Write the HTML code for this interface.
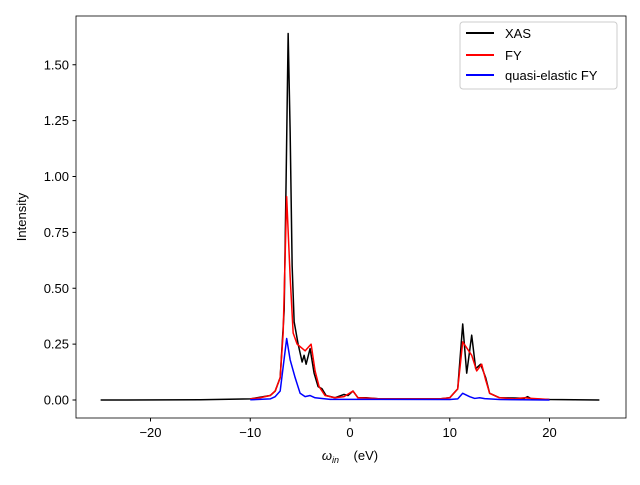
<!DOCTYPE html>
<html><head><meta charset="utf-8"><style>
html,body{margin:0;padding:0;background:#fff}
svg{font-family:"Liberation Sans",sans-serif}
</style></head><body>
<svg id="chart" width="640" height="480">
<rect x="0" y="0" width="640" height="480" fill="#fff"/>
<g id="plot"></g>
<rect x="76" y="16" width="550" height="402" fill="none" stroke="#000" stroke-width="0.8"/>
<g id="ticks"></g>
<text x="350" y="460" font-size="13" text-anchor="middle" xml:space="preserve"><tspan font-style="italic">ω</tspan><tspan font-style="italic" font-size="9" dy="3">in</tspan><tspan dy="-3">    (eV)</tspan></text>
<text x="26" y="217" font-size="13" text-anchor="middle" transform="rotate(-90 26 217)">Intensity</text>
<g>
<rect x="460" y="22" width="157" height="67" rx="3" fill="#fff" fill-opacity="0.8" stroke="#ccc"/>
<line x1="466" y1="33" x2="494" y2="33" stroke="#000" stroke-width="2"/>
<text x="505" y="38" font-size="13">XAS</text>
<line x1="466" y1="55" x2="494" y2="55" stroke="#f00" stroke-width="2"/>
<text x="505" y="60" font-size="13">FY</text>
<line x1="466" y1="75" x2="494" y2="75" stroke="#00f" stroke-width="2"/>
<text x="505" y="80" font-size="13">quasi-elastic FY</text>
</g>
</svg>
<script>
const xasX=[-25,-15,-10,-8,-7.5,-7,-6.6,-6.4,-6.2,-6.0,-5.8,-5.6,-5.2,-4.8,-4.6,-4.4,-4.0,-3.6,-3.2,-2.8,-2.4,-1.5,-0.6,-0.2,0.3,0.8,1.6,3,9,10,10.8,11.3,11.7,12.2,12.6,13.1,13.6,14.0,15,17.5,17.8,18.2,20,25];
const xasY=[0,0.001,0.005,0.02,0.04,0.1,0.4,1.0,1.64,1.2,0.6,0.35,0.25,0.17,0.2,0.16,0.23,0.12,0.06,0.05,0.02,0.01,0.025,0.02,0.04,0.01,0.01,0.005,0.005,0.01,0.05,0.34,0.12,0.29,0.14,0.16,0.1,0.03,0.01,0.008,0.015,0.005,0.002,0];
const fyX=[-10,-9,-8,-7.5,-7,-6.7,-6.35,-6.0,-5.7,-5.3,-4.5,-3.9,-3.5,-3.1,-2.5,-1.5,-0.6,0.3,0.8,2,3,9,10,10.8,11.3,12.2,12.7,13.2,13.6,14,15,16.5,17.5,18,20];
const fyY=[0.005,0.01,0.02,0.04,0.1,0.3,0.91,0.55,0.3,0.25,0.22,0.25,0.13,0.06,0.02,0.01,0.015,0.04,0.01,0.008,0.005,0.005,0.01,0.05,0.26,0.2,0.13,0.16,0.09,0.03,0.01,0.005,0.01,0.008,0.002];
const qeX=[-10,-8,-7.5,-7,-6.35,-6,-5.5,-5,-4.5,-4,-3.5,-2,10,10.8,11.3,12,12.5,13,13.5,15,20];
const qeY=[0.001,0.005,0.015,0.04,0.275,0.18,0.1,0.03,0.015,0.02,0.01,0.003,0.002,0.005,0.03,0.015,0.007,0.01,0.006,0.002,0];
const xTicks=[-20,-10,0,10,20];
const yTicks=[0,0.25,0.5,0.75,1.0,1.25,1.5];
const yTickLabels=["0.00","0.25","0.50","0.75","1.00","1.25","1.50"];
const NS="http://www.w3.org/2000/svg";
const sx=v=>350+9.975*v, sy=v=>400-223.5*v;
const plot=document.getElementById('plot'), ticks=document.getElementById('ticks');
function line(xs,ys,color,name){
  const p=document.createElementNS(NS,'polyline');
  p.setAttribute('points',xs.map((x,i)=>sx(x)+','+sy(ys[i])).join(' '));
  p.setAttribute('fill','none');p.setAttribute('stroke',color);p.setAttribute('stroke-width','1.5');p.setAttribute('stroke-linejoin','round');
  
  
  plot.appendChild(p);
}
line(xasX,xasY,'#000','xas-line');
line(fyX,fyY,'#f00','fy-line');
line(qeX,qeY,'#00f','quasi-elastic-fy-line');
xTicks.forEach(t=>{
  const l=document.createElementNS(NS,'line');
  l.setAttribute('x1',sx(t));l.setAttribute('x2',sx(t));l.setAttribute('y1',418);l.setAttribute('y2',421.5);l.setAttribute('stroke','#000');
  
  
  ticks.appendChild(l);
  const tx=document.createElementNS(NS,'text');
  tx.setAttribute('x',sx(t));tx.setAttribute('y',437);tx.setAttribute('font-size','13');tx.setAttribute('text-anchor','middle');
  tx.textContent=(t<0?'\u2212'+(-t):t);
  
  
  ticks.appendChild(tx);
});
yTicks.forEach((t,i)=>{
  const l=document.createElementNS(NS,'line');
  l.setAttribute('x1',72.5);l.setAttribute('x2',76);l.setAttribute('y1',sy(t));l.setAttribute('y2',sy(t));l.setAttribute('stroke','#000');
  
  
  ticks.appendChild(l);
  const tx=document.createElementNS(NS,'text');
  tx.setAttribute('x',69);tx.setAttribute('y',sy(t)+4.5);tx.setAttribute('font-size','13');tx.setAttribute('text-anchor','end');
  tx.textContent=yTickLabels[i];
  
  
  ticks.appendChild(tx);
});
</script>
</body></html>
